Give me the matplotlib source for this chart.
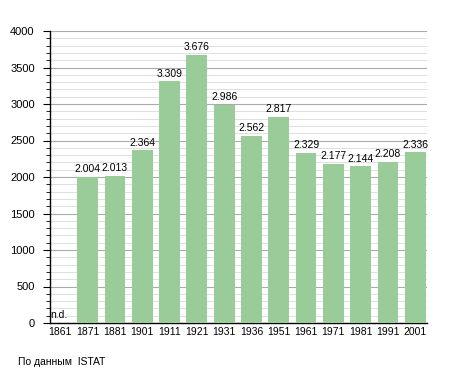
import matplotlib.pyplot as plt
from matplotlib.ticker import MultipleLocator

years = ['1861', '1871', '1881', '1901', '1911', '1921', '1931',
         '1936', '1951', '1961', '1971', '1981', '1991', '2001']
population = [None, 2004, 2013, 2364, 3309, 3676, 2986,
              2562, 2817, 2329, 2177, 2144, 2208, 2336]
source_note = 'По данным  ISTAT'

plt.rcParams['font.family'] = ['Liberation Sans', 'DejaVu Sans']

fig = plt.figure(figsize=(4.55, 3.73), dpi=100)
ax = fig.add_axes([50 / 455, 50 / 373, 377 / 455, 292 / 373])

x = list(range(len(years)))
heights = [0 if v is None else v for v in population]
ax.bar(x, heights, width=0.76, color='#99cc99', zorder=3)

# value labels above bars, "n.d." where there is no data
for i, v in enumerate(population):
    if v is None:
        ax.text(i - 0.36, 40, 'n.d.', fontsize=7.5, ha='left', va='bottom', zorder=4)
    else:
        lab = f'{v:,}'.replace(',', '.')
        ax.text(i, v + 40, lab, fontsize=7.5, ha='center', va='bottom', zorder=4)

ax.set_xlim(-0.38, 13.43)
ax.set_ylim(0, 4000)
ax.set_xticks(x)
ax.set_xticklabels(years, fontsize=7.5)
ax.tick_params(axis='x', length=0, pad=3)

ax.yaxis.set_major_locator(MultipleLocator(500))
ax.yaxis.set_minor_locator(MultipleLocator(100))
ax.tick_params(axis='y', which='major', length=5, width=0.8, labelsize=8, pad=6)
ax.tick_params(axis='y', which='minor', length=3, width=0.6)
ax.grid(axis='y', which='major', color='#aaaaaa', linewidth=0.8, zorder=1)
ax.grid(axis='y', which='minor', color='#e0e0e0', linewidth=0.7, zorder=1)

for s in ['top', 'right']:
    ax.spines[s].set_visible(False)
ax.spines['left'].set_linewidth(1.0)
ax.spines['bottom'].set_linewidth(1.0)

fig.text(18 / 455, 1 - 362 / 373, source_note, fontsize=7.5, va='center', ha='left')

fig.savefig('out.png', dpi=100)
